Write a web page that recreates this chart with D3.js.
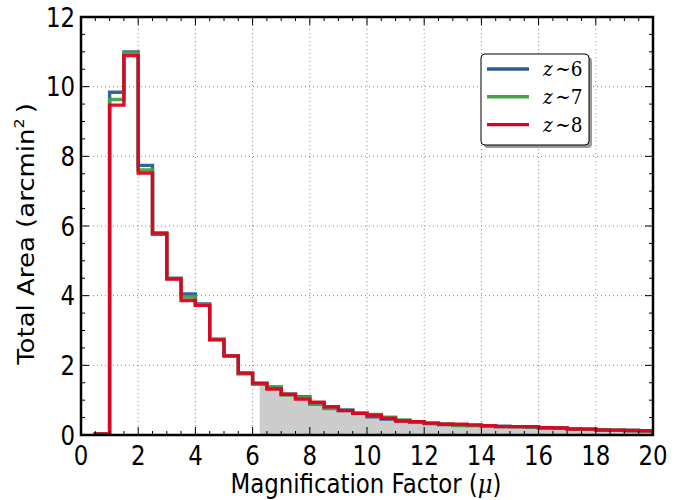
<!DOCTYPE html>
<html><head><meta charset="utf-8">
<script src="https://cdn.jsdelivr.net/npm/d3@7"></script>
<style>body{margin:0;background:#fff}</style>
</head><body>
<svg id="c" width="689" height="500"></svg>
<script>
const binEdges = [0.5,1.0,1.5,2.0,2.5,3.0,3.5,4.0,4.5,5.0,5.5,6.0,6.5,7.0,7.5,8.0,8.5,9.0,9.5,10.0,
  10.5,11.0,11.5,12.0,12.5,13.0,13.5,14.0,14.5,15.0,15.5,16.0,16.5,17.0,17.5,18.0,18.5,19.0,19.5,20.0];
const areaZ6 = [0.04,9.84,11.00,7.74,5.76,4.50,4.05,3.76,2.75,2.28,1.76,1.46,1.36,1.17,1.10,0.89,0.78,0.72,0.62,0.52,
  0.46,0.41,0.38,0.33,0.30,0.28,0.27,0.26,0.25,0.24,0.23,0.21,0.20,0.18,0.17,0.15,0.14,0.13,0.12];
const areaZ7 = [0.04,9.63,10.97,7.61,5.78,4.49,3.96,3.74,2.74,2.28,1.77,1.48,1.39,1.15,1.08,0.91,0.76,0.70,0.63,0.59,
  0.51,0.43,0.37,0.34,0.32,0.27,0.28,0.26,0.24,0.24,0.23,0.21,0.20,0.17,0.17,0.14,0.14,0.13,0.12];
const areaZ8 = [0.03,9.47,10.89,7.52,5.80,4.48,3.86,3.72,2.73,2.27,1.78,1.49,1.32,1.17,1.03,0.94,0.81,0.70,0.62,0.57,
  0.48,0.40,0.38,0.34,0.31,0.31,0.29,0.27,0.24,0.24,0.24,0.21,0.20,0.17,0.17,0.14,0.14,0.13,0.12];
const seriesNames = ["6","7","8"];
const seriesColors = ["#2b5d94","#42a33f","#df0024"];
const xTicks = [0,2,4,6,8,10,12,14,16,18,20];
const yTicks = [0,2,4,6,8,10,12];
const shadeStart = 6.25;

const svg = d3.select("#c");
const L=81, R=653, T=17, B=435;
const SX=0.88;
const x = d3.scaleLinear().domain([0,20]).range([L,R]);
const y = d3.scaleLinear().domain([0,12]).range([B,T]);

svg.append("defs").append("clipPath").attr("id","clip")
  .append("rect").attr("x",L).attr("y",T).attr("width",R-L).attr("height",B-T);

// grid
const g = svg.append("g");
g.selectAll(".gx").data(xTicks.slice(1,-1)).enter().append("line")
  .attr("x1",d=>x(d)).attr("x2",d=>x(d)).attr("y1",T).attr("y2",B)
  .attr("stroke","#888").attr("stroke-width",1).attr("stroke-dasharray","1,3");
g.selectAll(".gy").data(yTicks.slice(1,-1)).enter().append("line")
  .attr("y1",d=>y(d)).attr("y2",d=>y(d)).attr("x1",L).attr("x2",R)
  .attr("stroke","#888").attr("stroke-width",1).attr("stroke-dasharray","1,3");

function stepPts(vals){
  const pts=[[binEdges[0],0]];
  vals.forEach((v,i)=>{pts.push([binEdges[i],v]);pts.push([binEdges[i+1],v]);});
  pts.push([binEdges[binEdges.length-1],0]);
  return pts;
}
// shaded area
const shadePts=[];
areaZ6.forEach((v,i)=>{
  const a=Math.max(binEdges[i],shadeStart), b=binEdges[i+1];
  if(b>shadeStart){shadePts.push([a,v]);shadePts.push([b,v]);}
});
svg.append("path").attr("clip-path","url(#clip)")
  .datum(shadePts)
  .attr("d",d3.area().x(d=>x(d[0])).y0(y(0)).y1(d=>y(d[1])))
  .attr("fill","#cccccc");

const line = d3.line().x(d=>x(d[0])).y(d=>y(d[1]));
[areaZ6,areaZ7,areaZ8].forEach((vals,i)=>{
  svg.append("path").attr("clip-path","url(#clip)")
    .datum(stepPts(vals)).attr("d",line)
    .attr("fill","none").attr("stroke",seriesColors[i]).attr("stroke-width",3.4)
    .attr("stroke-linejoin","miter").attr("stroke-opacity",0.95);
});

// ticks (inward, all sides)
const minorX=d3.range(0,20.01,0.5), minorY=d3.range(0,12.01,0.5);
const tk=svg.append("g").attr("stroke","#000").attr("stroke-width",1);
minorX.forEach(v=>{
  const maj = Math.abs(v/2-Math.round(v/2))<1e-6; const len=maj?8:4;
  tk.append("line").attr("x1",x(v)).attr("x2",x(v)).attr("y1",B).attr("y2",B-len);
  tk.append("line").attr("x1",x(v)).attr("x2",x(v)).attr("y1",T).attr("y2",T+len);
});
minorY.forEach(v=>{
  const maj = Math.abs(v/2-Math.round(v/2))<1e-6; const len=maj?8:4;
  tk.append("line").attr("y1",y(v)).attr("y2",y(v)).attr("x1",L).attr("x2",L+len);
  tk.append("line").attr("y1",y(v)).attr("y2",y(v)).attr("x1",R).attr("x2",R-len);
});

// frame
svg.append("rect").attr("x",L).attr("y",T).attr("width",R-L).attr("height",B-T)
  .attr("fill","none").attr("stroke","#000").attr("stroke-width",2.5);

// tick labels (rendered slightly condensed like the reference)
const font="DejaVu Sans";
svg.selectAll(".xl").data(xTicks).enter().append("g")
  .attr("transform",d=>`translate(${x(d)},${B+30}) scale(${SX},1)`)
  .append("text").attr("text-anchor","middle")
  .attr("font-family",font).attr("font-size",26).text(d=>d);
svg.selectAll(".yl").data(yTicks).enter().append("g")
  .attr("transform",d=>`translate(${L-6},${y(d)+9.5}) scale(${SX},1)`)
  .append("text").attr("text-anchor","end")
  .attr("font-family",font).attr("font-size",26).text(d=>d);

// axis labels
const xt=svg.append("g").attr("transform",`translate(${(L+R)/2-1},493) scale(${SX},1)`)
  .append("text").attr("text-anchor","middle")
  .attr("font-family",font).attr("font-size",26);
xt.append("tspan").text("Magnification Factor (");
xt.append("tspan").attr("font-family","DejaVu Serif").attr("font-style","italic").text("μ");
xt.append("tspan").text(")");
const yt=svg.append("g").attr("transform",`translate(34,${(T+B)/2+8}) scale(${SX},1) rotate(-90)`)
  .append("text").attr("text-anchor","middle").attr("font-family",font).attr("font-size",26);
yt.append("tspan").text("Total Area (arcmin");
yt.append("tspan").attr("font-size",16).attr("dy",-11).text("2");
yt.append("tspan").attr("dy",11).attr("dx",5).text(")");

// legend
const lg=svg.append("g");
lg.append("rect").attr("x",484).attr("y",57).attr("width",108).attr("height",91).attr("rx",4)
  .attr("fill","#999");
lg.append("rect").attr("x",481).attr("y",54).attr("width",108).attr("height",91).attr("rx",4)
  .attr("fill","#fff").attr("stroke","#000").attr("stroke-width",1);
seriesNames.forEach((n,i)=>{
  const yy=69+i*27.8;
  lg.append("line").attr("x1",487).attr("x2",529).attr("y1",yy).attr("y2",yy)
    .attr("stroke",seriesColors[i]).attr("stroke-width",3.4);
  const t=lg.append("g").attr("transform",`translate(543,${yy+7}) scale(${SX},1)`)
    .append("text").attr("font-family","DejaVu Serif").attr("font-size",21);
  t.append("tspan").attr("font-style","italic").text("z");
  t.append("tspan").attr("dx",3).text("∼"+n);
});
</script>
</body></html>
